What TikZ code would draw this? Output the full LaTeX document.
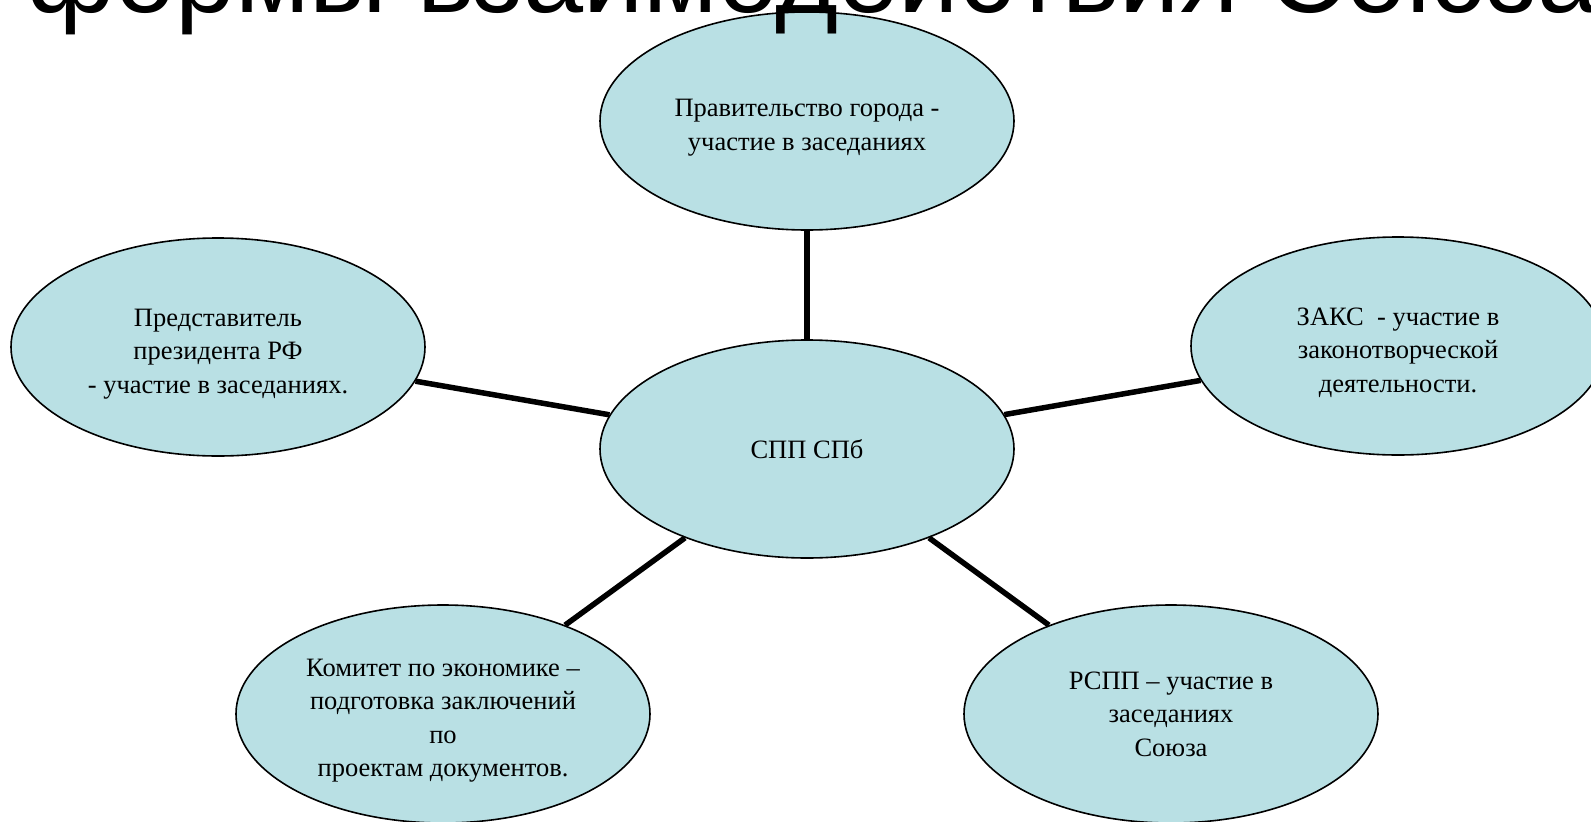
\documentclass[tikz,border=0pt]{standalone}
\usepackage{fontspec}
\setmainfont{Liberation Serif}
\newfontfamily\titlefont{Liberation Sans}
\usetikzlibrary{shapes.geometric}
\definecolor{ovalfill}{RGB}{185,224,228}
% taller first line, so that the text sits a little low in the oval
\newcommand{\ovalstrut}{\rule{0pt}{31pt}}

\tikzset{
  oval/.style={ellipse,draw=black,line width=1.6pt,fill=ovalfill,
    minimum width=414pt,minimum height=218pt,inner sep=0pt,
    align=center,font=\fontsize{26.5}{33.5}\selectfont},
  link/.style={line width=5.5pt}
}

\begin{document}
\begin{tikzpicture}[x=1pt,y=-1pt]
\useasboundingbox (0,0) rectangle (1591,822);
\node[oval] (spp) at (807,449) {СПП СПб};
\node[oval] (gov) at (807,121) {\ovalstrut Правительство города -\\участие в заседаниях};
\node[oval] (pres) at (218,347) {\ovalstrut Представитель\\президента РФ\\- участие в заседаниях.};
\node[oval] (zaks) at (1398,346) {\ovalstrut ЗАКС~ - участие в\\законотворческой\\деятельности.};
\node[oval] (kom) at (443,714) {\ovalstrut Комитет по экономике –\\подготовка заключений\\по\\проектам документов.};
\node[oval] (rspp) at (1171,714) {РСПП – участие в\\заседаниях\\Союза};
\draw[link] (spp) -- (gov);
\draw[link] (spp) -- (pres);
\draw[link] (spp) -- (zaks);
\draw[link] (spp) -- (kom);
\draw[link] (spp) -- (rspp);
\node[anchor=base,inner sep=0pt,font=\titlefont\fontsize{108}{120}\selectfont] (title) at (812,12) {формы взаимодействия Союза};
\end{tikzpicture}
\end{document}
